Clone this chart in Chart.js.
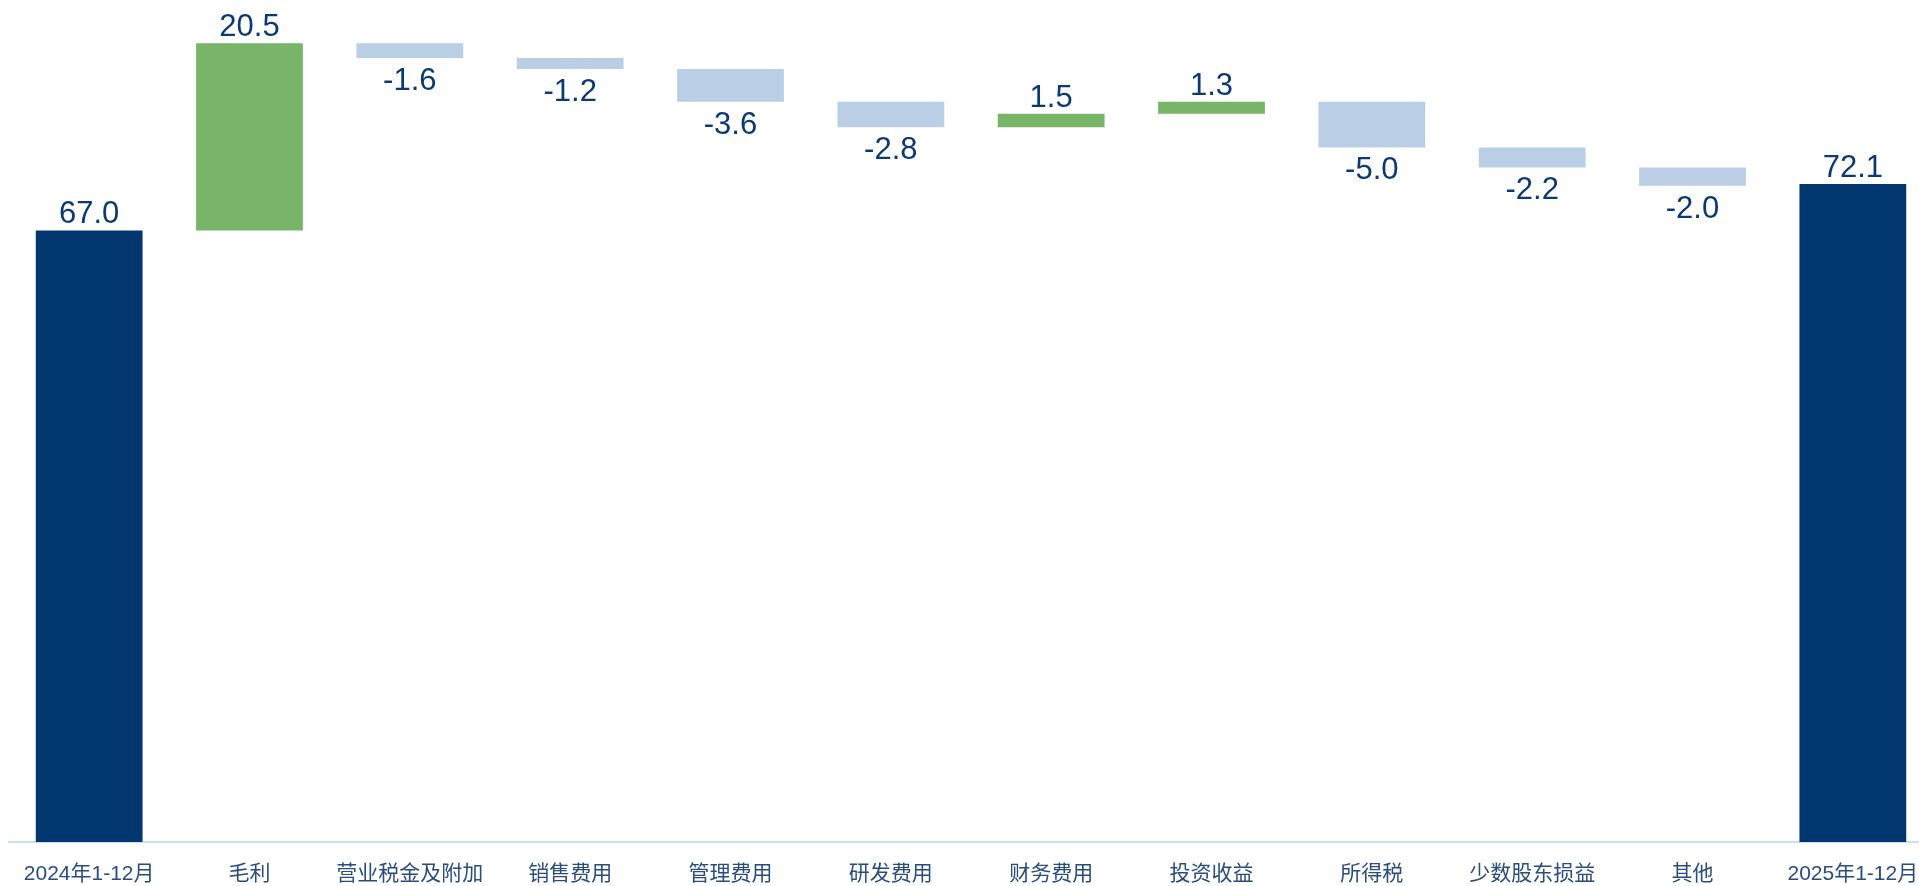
<!DOCTYPE html>
<html>
<head>
<meta charset="utf-8">
<script src="https://cdn.jsdelivr.net/npm/chart.js@4/dist/chart.umd.min.js"></script>
<style>
  html, body { margin: 0; padding: 0; background: #fff; overflow: hidden; }
  #wrap { width: 1933px; height: 886px; position: relative; }
</style>
</head>
<body>
<div id="wrap"><canvas id="bridge"></canvas></div>
<script>
const categories = ['2024年1-12月', '毛利', '营业税金及附加', '销售费用', '管理费用', '研发费用',
                    '财务费用', '投资收益', '所得税', '少数股东损益', '其他', '2025年1-12月'];
const values     = [67.0, 20.5, -1.6, -1.2, -3.6, -2.8, 1.5, 1.3, -5.0, -2.2, -2.0, 72.1];
const isTotal    = [true, false, false, false, false, false, false, false, false, false, false, true];

const NAVY  = '#02366e';
const GREEN = '#78b568';
const PALE  = '#bacfe6';
const TEXT  = '#0b3a72';

// floating ranges for the bridge
let running = 0;
const ranges = values.map((v, i) => {
  if (isTotal[i]) { running = v; return [0, v]; }
  const start = running;
  running += v;
  return [start, running];
});
const colors = values.map((v, i) => isTotal[i] ? NAVY : (v >= 0 ? GREEN : PALE));

const valueLabels = {
  id: 'valueLabels',
  afterDatasetsDraw(chart) {
    const { ctx } = chart;
    const meta = chart.getDatasetMeta(0);
    ctx.save();
    ctx.font = '31px "Liberation Sans", Arial, sans-serif';
    ctx.fillStyle = TEXT;
    ctx.textAlign = 'center';
    ctx.textBaseline = 'alphabetic';
    meta.data.forEach((bar, i) => {
      const v = values[i];
      const txt = v.toFixed(1);
      const top = Math.min(bar.y, bar.base);
      const bottom = Math.max(bar.y, bar.base);
      if (v >= 0) ctx.fillText(txt, bar.x, top - 7);
      else ctx.fillText(txt, bar.x, bottom + 32);
    });
    ctx.restore();
  }
};

new Chart(document.getElementById('bridge').getContext('2d'), {
  type: 'bar',
  data: {
    labels: categories,
    datasets: [{
      data: ranges,
      backgroundColor: colors,
      borderWidth: 0,
      borderSkipped: false,
      categoryPercentage: 1,
      barPercentage: 0.666,
    }],
  },
  options: {
    responsive: true,
    maintainAspectRatio: false,
    animation: false,
    layout: { padding: { left: 9, right: 0, top: 0, bottom: 0 } },
    plugins: {
      legend: { display: false },
      tooltip: { enabled: false },
    },
    scales: {
      x: {
        grid:   { display: false, drawTicks: false },
        border: { display: true, color: '#c8dff6', width: 2 },
        ticks:  {
          color: '#2a4d7d',
          padding: 20,
          maxRotation: 0,
          autoSkip: false,
          font: { family: '"Liberation Sans", "Noto Sans CJK SC", sans-serif', size: 21 },
        },
        afterFit: scale => {
          scale.height = 44;
          scale.paddingLeft = 0;
          scale.paddingRight = 0;
        },
      },
      y: {
        display: false,
        min: 0,
        max: 92.25,
      },
    },
  },
  plugins: [valueLabels],
});
</script>
</body>
</html>
